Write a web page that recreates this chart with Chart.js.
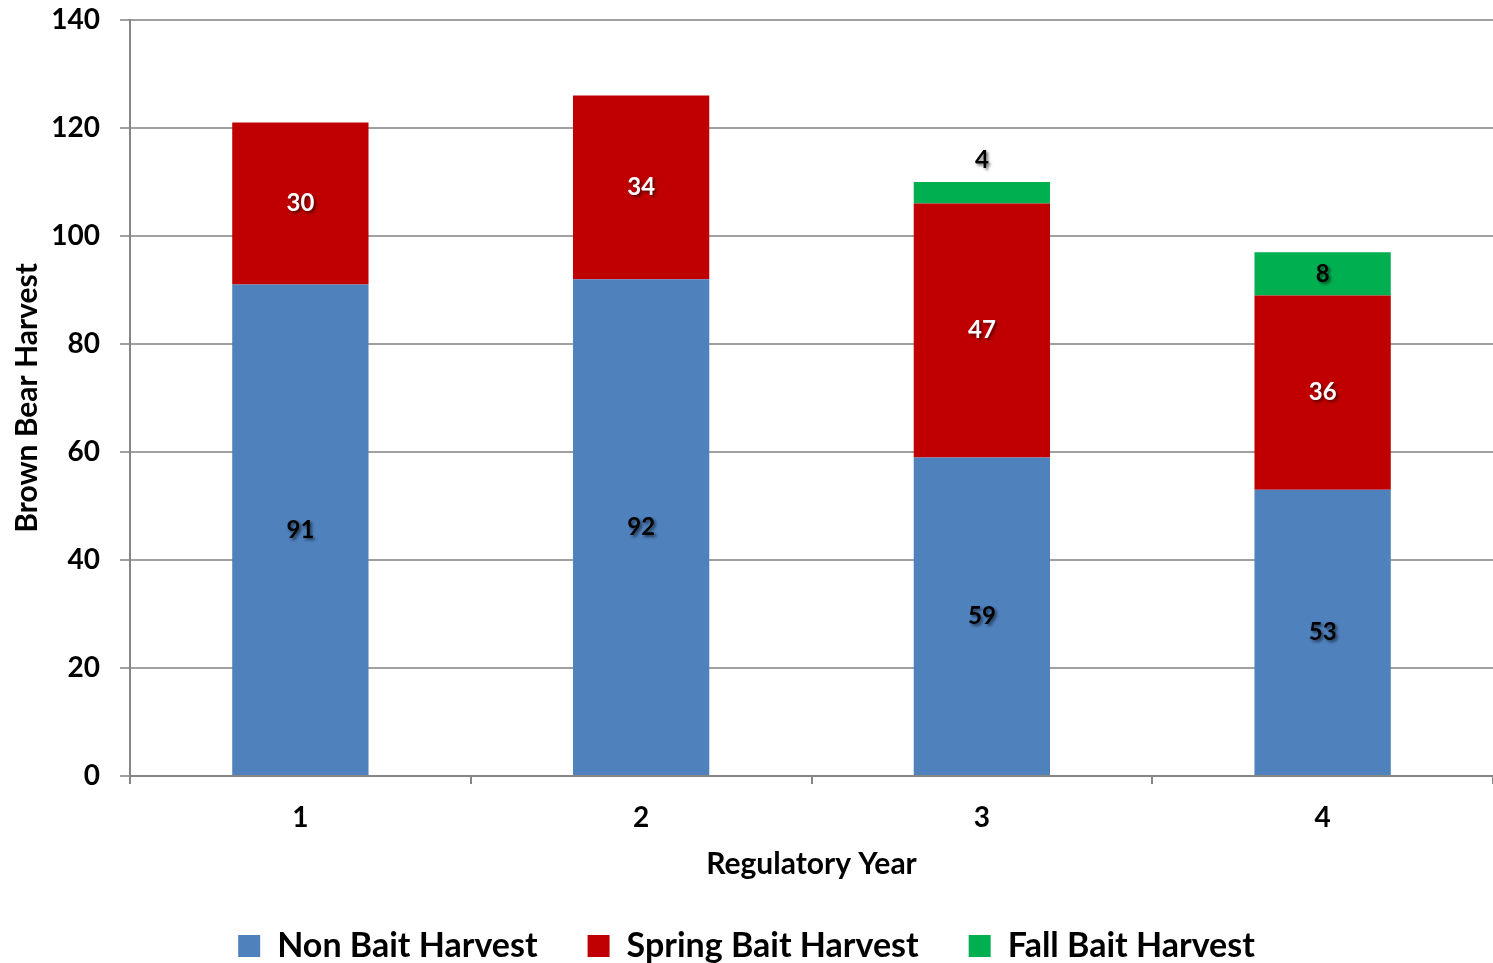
<!DOCTYPE html>
<html>
<head>
<meta charset="utf-8">
<script src="https://cdn.jsdelivr.net/npm/chart.js@4/dist/chart.umd.min.js"></script>
<style>
html,body{margin:0;padding:0;background:#fff;}
#wrap{width:1493px;height:963px;}
</style>
</head>
<body>
<div id="wrap"><canvas id="c" width="1493" height="963"></canvas></div>
<script>
const categories = ['1', '2', '3', '4'];
const nonBait = [91, 92, 59, 53];
const springBait = [30, 34, 47, 36];
const fallBait = [null, null, 4, 8];
const seriesNames = ['Non Bait Harvest', 'Spring Bait Harvest', 'Fall Bait Harvest'];
const yTicks = [0, 20, 40, 60, 80, 100, 120, 140];

const FONT = 'Lato, "Open Sans", sans-serif';
const labelColors = ['#000000', '#ffffff', '#000000'];

const barLabels = {
  id: 'barLabels',
  afterDatasetsDraw(chart) {
    const ctx = chart.ctx;
    ctx.save();
    ctx.font = 'bold 24px ' + FONT;
    ctx.textAlign = 'center';
    ctx.textBaseline = 'middle';
    chart.data.datasets.forEach((ds, di) => {
      const meta = chart.getDatasetMeta(di);
      meta.data.forEach((bar, i) => {
        const v = ds.data[i];
        if (v === null || v === undefined) return;
        const top = Math.min(bar.y, bar.base);
        const h = Math.abs(bar.base - bar.y);
        let y = (bar.y + bar.base) / 2;
        if (h < 30) y = top - 22;
        ctx.shadowColor = 'rgba(0,0,0,0.55)';
        ctx.shadowOffsetX = 2;
        ctx.shadowOffsetY = 2;
        ctx.shadowBlur = 3;
        ctx.fillStyle = labelColors[di];
        ctx.fillText(String(v), bar.x, y);
      });
    });
    ctx.restore();
  }
};

new Chart(document.getElementById('c'), {
  type: 'bar',
  data: {
    labels: categories,
    datasets: [
      { label: seriesNames[0], data: nonBait, backgroundColor: '#4F81BD' },
      { label: seriesNames[1], data: springBait, backgroundColor: '#C00000' },
      { label: seriesNames[2], data: fallBait, backgroundColor: '#00B050' }
    ]
  },
  options: {
    responsive: false,
    animation: false,
    devicePixelRatio: 1,
    barPercentage: 0.4,
    categoryPercentage: 1.0,
    layout: { padding: { top: 20, left: 0, right: 0, bottom: -10 } },
    plugins: {
      tooltip: { enabled: false },
      legend: {
        position: 'bottom',
        labels: {
          boxWidth: 22,
          boxHeight: 22,
          padding: 50,
          color: '#000',
          font: { family: FONT, size: 34, weight: 'bold' }
        }
      }
    },
    scales: {
      x: {
        stacked: true,
        afterFit(s) { s.height = 103; s.paddingLeft = 0; s.paddingRight = 0; },
        grid: { drawOnChartArea: false, drawTicks: true, tickLength: 8, color: '#868686', lineWidth: 2, offset: true },
        border: { color: '#868686', width: 2 },
        ticks: { color: '#000', padding: 17, font: { family: FONT, size: 28, weight: 'bold' } },
        title: { display: true, text: 'Regulatory Year', color: '#000', padding: { top: 0, bottom: -3 }, font: { family: FONT, size: 30, weight: 'bold' } }
      },
      y: {
        stacked: true,
        min: 0,
        max: 140,
        afterFit(s) { s.width = 130; s.paddingTop = 0; s.paddingBottom = 0; },
        afterBuildTicks(s) { s.ticks = yTicks.map(v => ({ value: v })); },
        grid: { color: '#a0a0a0', lineWidth: 2, tickLength: 10, drawTicks: true },
        border: { color: '#868686', width: 2 },
        ticks: { color: '#000', padding: 20, font: { family: FONT, size: 28, weight: 'bold' } },
        title: { display: true, text: 'Brown Bear Harvest', color: '#000', padding: { top: 9, bottom: 0 }, font: { family: FONT, size: 30, weight: 'bold' } }
      }
    }
  },
  plugins: [barLabels]
});
</script>
</body>
</html>
